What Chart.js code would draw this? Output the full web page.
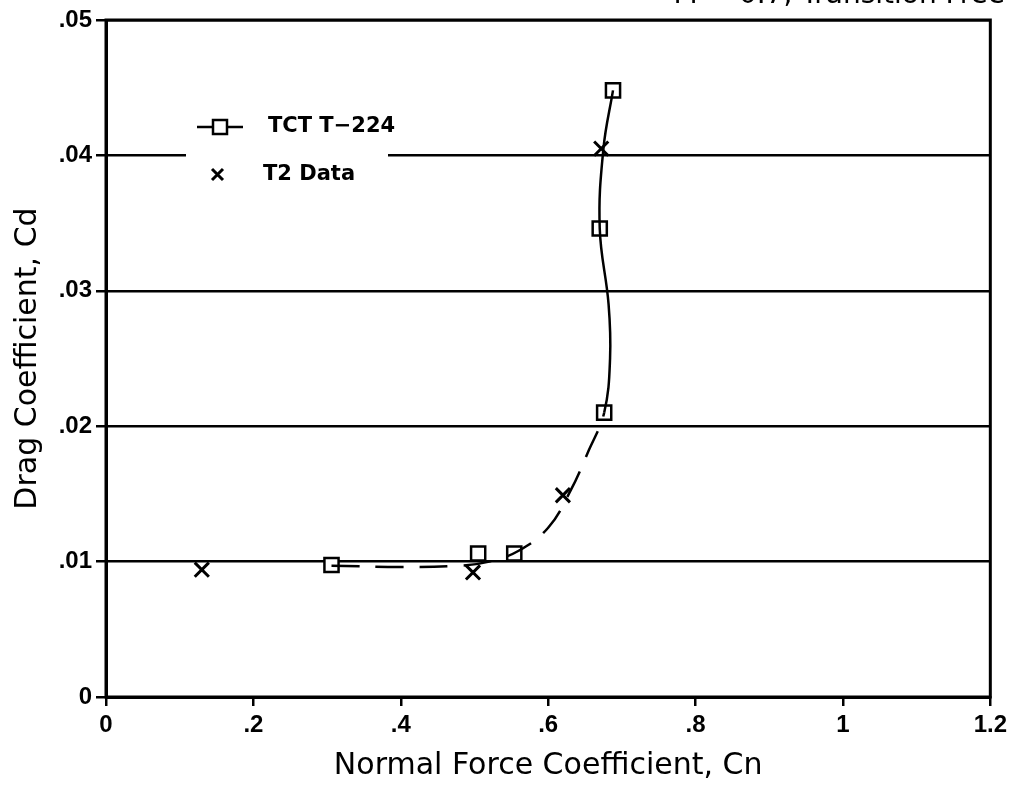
<!DOCTYPE html>
<html lang="en">
  <head>
    <meta charset="UTF-8" />
    <title>Drag vs Normal Force</title>
    <script src="https://cdn.jsdelivr.net/npm/chart.js"></script>
    <style>
      body { margin: 0; background: #fff; }
    </style>
  </head>
  <body>
    <canvas id="dragChart" width="1012" height="790"></canvas>

    <script>
      // values
      const tctCn = [0.306, 0.505, 0.554, 0.676, 0.670, 0.688];
      const tctCd = [0.00975, 0.0106, 0.0106, 0.0210, 0.0346, 0.0448];

      const t2Cn = [0.130, 0.498, 0.620, 0.672];
      const t2Cd = [0.0094, 0.0092, 0.0149, 0.0405];

      // faired curve through the data (dashed below Cd = .021, solid above)
      const fitCn = [0.306, 0.40, 0.48, 0.52, 0.56, 0.60, 0.63, 0.655, 0.676, 0.684, 0.682, 0.670, 0.675, 0.688];
      const fitCd = [0.0097, 0.0096, 0.0097, 0.0100, 0.0108, 0.0125, 0.0152, 0.0182, 0.0210, 0.0250, 0.0290, 0.0346, 0.0405, 0.0448];

      const xTicks = [0, 0.2, 0.4, 0.6, 0.8, 1, 1.2];
      const yTicks = [0, 0.01, 0.02, 0.03, 0.04, 0.05];

      const toPts = (xs, ys) => xs.map((x, i) => ({ x: x, y: ys[i] }));
      const fmt = (v) => String(+v.toFixed(3)).replace(/^0\./, ".");

      // frame, legend box and cut-off title
      const framePlugin = {
        id: "frame",
        afterDraw(chart) {
          const { ctx, chartArea: a } = chart;
          ctx.save();
          ctx.strokeStyle = "#000";
          ctx.lineWidth = 3;
          ctx.strokeRect(a.left, a.top, a.right - a.left, a.bottom - a.top);

          // legend
          const lx = a.left + 82, ly = a.top + 107;
          ctx.fillStyle = "#fff";
          ctx.fillRect(lx - 2, ly - 22, 202, 72);
          ctx.lineWidth = 2.5;
          ctx.beginPath();
          ctx.moveTo(lx + 9, ly);
          ctx.lineTo(lx + 55, ly);
          ctx.stroke();
          ctx.fillRect(lx + 25, ly - 7, 14, 14);
          ctx.strokeRect(lx + 25, ly - 7, 14, 14);
          ctx.beginPath();
          ctx.lineWidth = 3;
          ctx.moveTo(lx + 24, ly + 42);
          ctx.lineTo(lx + 35, ly + 53);
          ctx.moveTo(lx + 35, ly + 42);
          ctx.lineTo(lx + 24, ly + 53);
          ctx.stroke();
          ctx.fillStyle = "#000";
          ctx.font = "bold 21px 'DejaVu Sans'";
          ctx.textBaseline = "middle";
          ctx.fillText("TCT T\u2212224", lx + 80, ly);
          ctx.fillText("T2 Data", lx + 75, ly + 48);

          // title, mostly off the top of the scan
          ctx.font = "28px 'DejaVu Sans'";
          ctx.textAlign = "right";
          ctx.textBaseline = "alphabetic";
          ctx.fillText("M = 0.7, Transition Free", 1005, 3);
          ctx.restore();
        },
      };

      const ctx = document.getElementById("dragChart").getContext("2d");
      new Chart(ctx, {
        type: "scatter",
        data: {
          datasets: [
            {
              label: "fit",
              data: toPts(fitCn, fitCd),
              showLine: true,
              pointRadius: 0,
              borderColor: "#000",
              borderWidth: 2.5,
              tension: 0.4,
              segment: {
                borderDash: (c) => (c.p1.parsed.y <= 0.0211 ? [28, 16] : undefined),
              },
            },
            {
              label: "TCT T-224",
              data: toPts(tctCn, tctCd),
              pointStyle: "rect",
              pointRadius: 10,
              pointBorderWidth: 2.5,
              borderColor: "#000",
              backgroundColor: "#fff",
            },
            {
              label: "T2 Data",
              data: toPts(t2Cn, t2Cd),
              pointStyle: "crossRot",
              pointRadius: 10,
              pointBorderWidth: 3,
              borderColor: "#000",
            },
          ],
        },
        options: {
          responsive: false,
          animation: false,
          layout: { padding: { top: 20, right: 19, left: 0, bottom: 0 } },
          plugins: {
            legend: { display: false },
            tooltip: { enabled: false },
          },
          scales: {
            x: {
              type: "linear",
              min: 0,
              max: 1.2,
              afterBuildTicks: (s) => { s.ticks = xTicks.map((v) => ({ value: v })); },
              afterFit: (s) => { s.height = 93; },
              grid: { drawOnChartArea: false, color: "#000", lineWidth: 2.5, tickLength: 9 },
              border: { color: "#000", width: 3 },
              ticks: {
                color: "#000",
                padding: 5,
                maxRotation: 0,
                font: { family: "'Liberation Sans'", size: 24, weight: "bold" },
                callback: (v) => fmt(v),
              },
              title: {
                display: true,
                text: "Normal Force Coefficient, Cn",
                color: "#000",
                padding: { top: 4, bottom: 6 },
                font: { family: "'DejaVu Sans'", size: 30 },
              },
            },
            y: {
              type: "linear",
              min: 0,
              max: 0.05,
              afterBuildTicks: (s) => { s.ticks = yTicks.map((v) => ({ value: v })); },
              afterFit: (s) => { s.width = 106; },
              grid: { color: "#000", lineWidth: 2.5, tickLength: 10 },
              border: { color: "#000", width: 3 },
              ticks: {
                color: "#000",
                padding: 4,
                font: { family: "'Liberation Sans'", size: 24, weight: "bold" },
                callback: (v) => fmt(v),
              },
              title: {
                display: true,
                text: "Drag Coefficient, Cd",
                color: "#000",
                padding: { top: 10, bottom: 0 },
                font: { family: "'DejaVu Sans'", size: 30 },
              },
            },
          },
        },
        plugins: [framePlugin],
      });
    </script>
  </body>
</html>
